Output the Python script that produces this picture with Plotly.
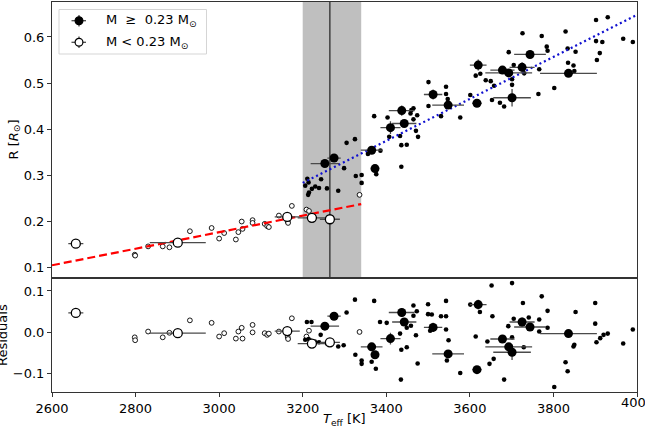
import plotly.graph_objects as go

# ---------------- data ----------------
# large symbols with error bars, M >= 0.23 Msun
big_hi_T = [3253, 3275, 3365, 3373, 3410, 3437, 3443, 3512, 3548, 3617, 3620, 3678, 3693, 3701, 3725, 3744, 3836]
big_hi_Terr = [34, 16, 26, 8, 24, 31, 29, 22, 38, 11, 20, 29, 56, 45, 30, 38, 68]
big_hi_R = [0.325, 0.337, 0.354, 0.314, 0.403, 0.440, 0.412, 0.475, 0.452, 0.456, 0.539, 0.528, 0.522, 0.468, 0.534, 0.562, 0.521]
big_hi_Rerr = [0.006, 0.008, 0.006, 0.006, 0.014, 0.011, 0.006, 0.011, 0.006, 0.006, 0.012, 0.006, 0.006, 0.019, 0.011, 0.008, 0.006]
big_hi_res = [0.015, 0.039, -0.035, -0.054, -0.015, 0.048, 0.025, 0.012, -0.052, -0.090, 0.067, -0.016, -0.035, -0.048, 0.025, 0.013, -0.003]

# large symbols with error bars, M < 0.23 Msun
big_lo_T = [2657, 2901, 3163, 3222, 3265]
big_lo_Terr = [18, 67, 30, 34, 24]
big_lo_R = [0.151, 0.153, 0.209, 0.207, 0.204]
big_lo_Rerr = [0.004, 0.004, 0.004, 0.004, 0.004]
big_lo_res = [0.047, -0.002, 0.003, -0.027, -0.024]

# small symbols, M < 0.23 Msun
small_lo_T = [2798, 2799, 2830, 2865, 2881, 2930, 2982, 3000, 3012, 3040, 3046, 3054, 3056,
              3080, 3080, 3109, 3115, 3119, 3143, 3164, 3165, 3174, 3209, 3215, 3336]
small_lo_R = [0.127, 0.125, 0.145, 0.145, 0.143, 0.178, 0.185, 0.162, 0.174, 0.160, 0.176, 0.199, 0.183,
              0.202, 0.196, 0.194, 0.189, 0.187, 0.212, 0.199, 0.196, 0.233, 0.225, 0.222, 0.257]
small_lo_res = [-0.012, -0.019, 0.002, -0.012, -0.001, 0.029, 0.023, -0.010, -0.002, -0.015, 0.002, 0.011, -0.015,
                0.018, 0.000, -0.002, -0.006, -0.003, 0.002, -0.011, -0.016, 0.034, -0.010, 0.004, 0.001]

# small symbols, M >= 0.23 Msun (upper panel)
small_hi_T = [3206, 3211, 3213, 3214, 3215, 3222, 3230, 3239, 3244, 3258, 3285, 3299, 3305, 3325, 3327,
              3341, 3341, 3356, 3371, 3376, 3386, 3403, 3407, 3433, 3436, 3436, 3449, 3458, 3460, 3465,
              3465, 3471, 3474, 3476, 3501, 3501, 3531, 3543, 3543, 3547, 3577, 3601, 3614, 3625, 3638,
              3650, 3653, 3658, 3672, 3682, 3693, 3701, 3701, 3705, 3726, 3730, 3764, 3766, 3772, 3784,
              3786, 3802, 3829, 3834, 3835, 3848, 3850, 3853, 3902, 3902, 3904, 3911, 3917, 3930, 3967, 3990]
small_hi_R = [0.277, 0.292, 0.257, 0.284, 0.262, 0.270, 0.275, 0.272, 0.291, 0.271, 0.266, 0.315, 0.370, 0.378, 0.298,
              0.300, 0.283, 0.346, 0.428, 0.302, 0.353, 0.425, 0.383, 0.385, 0.365, 0.318, 0.366, 0.434, 0.441, 0.445,
              0.421, 0.396, 0.430, 0.383, 0.502, 0.450, 0.428, 0.492, 0.476, 0.465, 0.425, 0.474, 0.516, 0.520, 0.506,
              0.504, 0.463, 0.494, 0.457, 0.449, 0.567, 0.508, 0.496, 0.539, 0.608, 0.521, 0.476, 0.530, 0.602, 0.579,
              0.570, 0.489, 0.612, 0.575, 0.544, 0.538, 0.526, 0.568, 0.637, 0.591, 0.550, 0.565, 0.589, 0.643, 0.596, 0.589]

# small symbols, M >= 0.23 Msun (residual panel)
small_hi_res_T = [3206, 3210, 3214, 3218, 3221, 3229, 3239, 3243, 3258, 3285, 3298, 3305, 3325, 3326, 3341,
                  3341, 3365, 3371, 3375, 3385, 3401, 3433, 3436, 3435, 3449, 3449, 3459, 3465, 3473, 3465,
                  3471, 3475, 3500, 3500, 3509, 3505, 3531, 3543, 3543, 3543, 3549, 3545, 3577, 3601, 3624,
                  3614, 3642, 3647, 3657, 3652, 3654, 3682, 3701, 3701, 3692, 3705, 3727, 3729, 3741, 3766,
                  3766, 3772, 3786, 3786, 3802, 3829, 3834, 3848, 3850, 3853, 3900, 3900, 3903, 3912, 3920,
                  3930, 3967, 3990]
small_hi_res = [-0.018, 0.025, -0.016, -0.020, 0.025, -0.022, -0.024, -0.006, -0.027, -0.034, -0.031, 0.048, 0.079, -0.054, -0.068,
                -0.076, -0.071, 0.076, -0.088, 0.025, 0.023, -0.003, -0.042, -0.114, -0.036, 0.011, 0.016, 0.065, 0.051, 0.040,
                -0.007, -0.075, 0.068, 0.044, 0.043, 0.004, 0.039, 0.007, 0.039, 0.076, -0.019, -0.068, -0.098, 0.067, 0.049,
                -0.010, -0.022, -0.076, -0.064, 0.113, 0.039, -0.114, 0.119, -0.012, 0.015, 0.033, 0.071, -0.036, 0.036, 0.031,
                0.002, 0.087, 0.052, 0.011, -0.132, -0.072, -0.094, -0.034, -0.030, 0.049, 0.071, 0.021, -0.024, -0.014, -0.006,
                -0.003, -0.027, 0.007]

# fitted relations
red_T = [2600, 3340]
red_R = [0.104, 0.237]
blue_T = [3200, 4000]
blue_R = [0.283, 0.648]

# transition region
band_T = [3200, 3340]
vline_T = 3265

x_ticks = [2600, 2800, 3000, 3200, 3400, 3600, 3800, 4000]
top_ticks = [0.1, 0.2, 0.3, 0.4, 0.5, 0.6]
res_ticks = [-0.1, 0.0, 0.1]
res_ticktext = ["\u22120.1", "0.0", "0.1"]

# ---------------- figure ----------------
W, H = 645, 430
ML, MR, MT, MB = 52, 8, 2, 38
PW, PH = W - ML - MR, H - MT - MB
split = (392 - 277.7) / PH

FONT = "DejaVu Sans"
ERRC = "#4a4a4a"

fig = go.Figure()

# --- upper panel ---
fig.add_trace(go.Scatter(x=small_lo_T, y=small_lo_R, mode="markers", xaxis="x2", yaxis="y2",
                         marker=dict(size=4.8, color="white", line=dict(color="black", width=0.9)),
                         showlegend=False))
fig.add_trace(go.Scatter(x=small_hi_T, y=small_hi_R, mode="markers", xaxis="x2", yaxis="y2",
                         marker=dict(size=4.6, color="black", line=dict(width=0)), showlegend=False))
fig.add_trace(go.Scatter(x=red_T, y=red_R, mode="lines", xaxis="x2", yaxis="y2",
                         line=dict(color="red", width=2.2, dash="8px,4px"), showlegend=False))
fig.add_trace(go.Scatter(x=blue_T, y=blue_R, mode="lines", xaxis="x2", yaxis="y2",
                         line=dict(color="#1010d0", width=2.2, dash="2px,3px"), showlegend=False))
fig.add_trace(go.Scatter(x=big_lo_T, y=big_lo_R, mode="markers", xaxis="x2", yaxis="y2",
                         error_x=dict(type="data", array=big_lo_Terr, color=ERRC, thickness=1.3, width=0),
                         error_y=dict(type="data", array=big_lo_Rerr, color=ERRC, thickness=1.3, width=0),
                         marker=dict(size=9, color="white", line=dict(color="black", width=1.3)),
                         showlegend=False))
fig.add_trace(go.Scatter(x=big_hi_T, y=big_hi_R, mode="markers", xaxis="x2", yaxis="y2",
                         error_x=dict(type="data", array=big_hi_Terr, color=ERRC, thickness=1.3, width=0),
                         error_y=dict(type="data", array=big_hi_Rerr, color=ERRC, thickness=1.3, width=0),
                         marker=dict(size=9, color="black", line=dict(width=0)), showlegend=False))

# --- residual panel ---
fig.add_trace(go.Scatter(x=small_lo_T, y=small_lo_res, mode="markers", xaxis="x", yaxis="y",
                         marker=dict(size=4.8, color="white", line=dict(color="black", width=0.9)),
                         showlegend=False))
fig.add_trace(go.Scatter(x=small_hi_res_T, y=small_hi_res, mode="markers", xaxis="x", yaxis="y",
                         marker=dict(size=4.6, color="black", line=dict(width=0)), showlegend=False))
fig.add_trace(go.Scatter(x=big_lo_T, y=big_lo_res, mode="markers", xaxis="x", yaxis="y",
                         error_x=dict(type="data", array=big_lo_Terr, color=ERRC, thickness=1.3, width=0),
                         error_y=dict(type="data", array=big_lo_Rerr, color=ERRC, thickness=1.3, width=0),
                         marker=dict(size=9, color="white", line=dict(color="black", width=1.3)),
                         showlegend=False))
fig.add_trace(go.Scatter(x=big_hi_T, y=big_hi_res, mode="markers", xaxis="x", yaxis="y",
                         error_x=dict(type="data", array=big_hi_Terr, color=ERRC, thickness=1.3, width=0),
                         error_y=dict(type="data", array=big_hi_Rerr, color=ERRC, thickness=1.3, width=0),
                         marker=dict(size=9, color="black", line=dict(width=0)), showlegend=False))

# shaded transition band + vertical line (upper panel)
shapes = [
    dict(type="rect", xref="x2", yref="y2 domain", x0=band_T[0], x1=band_T[1], y0=0, y1=1,
         fillcolor="#bfbfbf", line=dict(width=0), layer="below"),
    dict(type="line", xref="x2", yref="y2 domain", x0=vline_T, x1=vline_T, y0=0, y1=1,
         line=dict(color="#222222", width=1.2), layer="below"),
]


# manual legend (pixel helpers)
def px(x):
    return (x - ML) / PW


def py(y):
    return (MT + PH - y) / PH


shapes.append(dict(type="rect", xref="paper", yref="paper", x0=px(59), x1=px(206.5), y0=py(9.5), y1=py(54),
                   line=dict(color="#d5d5d5", width=1), fillcolor="rgba(255,255,255,0.85)", layer="above"))
for cy, fill in [(20.7, "black"), (42.3, "white")]:
    shapes.append(dict(type="line", xref="paper", yref="paper", x0=px(71.5), x1=px(86), y0=py(cy), y1=py(cy),
                       line=dict(color=ERRC, width=1.3), layer="above"))
    shapes.append(dict(type="line", xref="paper", yref="paper", x0=px(79), x1=px(79), y0=py(cy - 5.8),
                       y1=py(cy + 5.8), line=dict(color=ERRC, width=1.3), layer="above"))
    shapes.append(dict(type="circle", xref="paper", yref="paper", x0=px(79 - 3.9), x1=px(79 + 3.9),
                       y0=py(cy - 3.9), y1=py(cy + 3.9), fillcolor=fill,
                       line=dict(color="black", width=1.2), layer="above"))

NB = "\u00a0"
annotations = [
    dict(xref="paper", yref="paper", x=px(104), y=py(20.7), xanchor="left", yanchor="middle", showarrow=False,
         text=f"M{NB}{NB}\u2265{NB}{NB}0.23 M<sub>\u2299</sub>", font=dict(family=FONT, size=13, color="black")),
    dict(xref="paper", yref="paper", x=px(104), y=py(42.3), xanchor="left", yanchor="middle", showarrow=False,
         text="M < 0.23 M<sub>\u2299</sub>", font=dict(family=FONT, size=13, color="black")),
    dict(xref="paper", yref="paper", x=px(14), y=py(139.5), xanchor="center", yanchor="middle", showarrow=False,
         textangle=-90, text="R [<i>R</i><sub>\u2299</sub>]", font=dict(family=FONT, size=13, color="black")),
    dict(xref="paper", yref="paper", x=px(2), y=py(335), xanchor="center", yanchor="middle", showarrow=False,
         textangle=-90, text="Residuals", font=dict(family=FONT, size=13, color="black")),
    dict(xref="paper", yref="paper", x=px(344), y=py(419), xanchor="center", yanchor="middle", showarrow=False,
         text="<i>T</i><sub>eff</sub> [K]", font=dict(family=FONT, size=13, color="black")),
    # last x tick label, partly beyond the right edge as in the original
    dict(xref="x", yref="paper", x=x_ticks[-1], y=py(402.5), xanchor="center", yanchor="middle",
         showarrow=False, text=str(x_ticks[-1]), font=dict(family=FONT, size=13, color="black")),
]

axis_common = dict(showgrid=False, zeroline=False, showline=True, linecolor="#333333", linewidth=1,
                   mirror=True, ticks="outside", ticklen=4, tickwidth=1, tickcolor="#333333",
                   tickfont=dict(family=FONT, size=13, color="black"))

fig.update_layout(
    width=W, height=H,
    margin=dict(l=ML, r=MR, t=MT, b=MB),
    paper_bgcolor="white", plot_bgcolor="white",
    font=dict(family=FONT, size=13, color="black"),
    showlegend=False,
    xaxis=dict(domain=[0, 1], anchor="y", range=[2600, 4000], tickvals=x_ticks,
               ticktext=[str(v) for v in x_ticks[:-1]] + [""], **axis_common),
    yaxis=dict(domain=[0, split], anchor="x", range=[-0.144, 0.132], tickvals=res_ticks,
               ticktext=res_ticktext, **axis_common),
    xaxis2=dict(domain=[0, 1], anchor="y2", matches="x", range=[2600, 4000], showticklabels=False,
                **{k: v for k, v in axis_common.items() if k not in ("ticks",)}, ticks=""),
    yaxis2=dict(domain=[split, 1], anchor="x2", range=[0.077, 0.676], tickvals=top_ticks,
                ticktext=[f"{v:.1f}" for v in top_ticks], **axis_common),
    shapes=shapes,
    annotations=annotations,
)

fig.write_html("out.html")
